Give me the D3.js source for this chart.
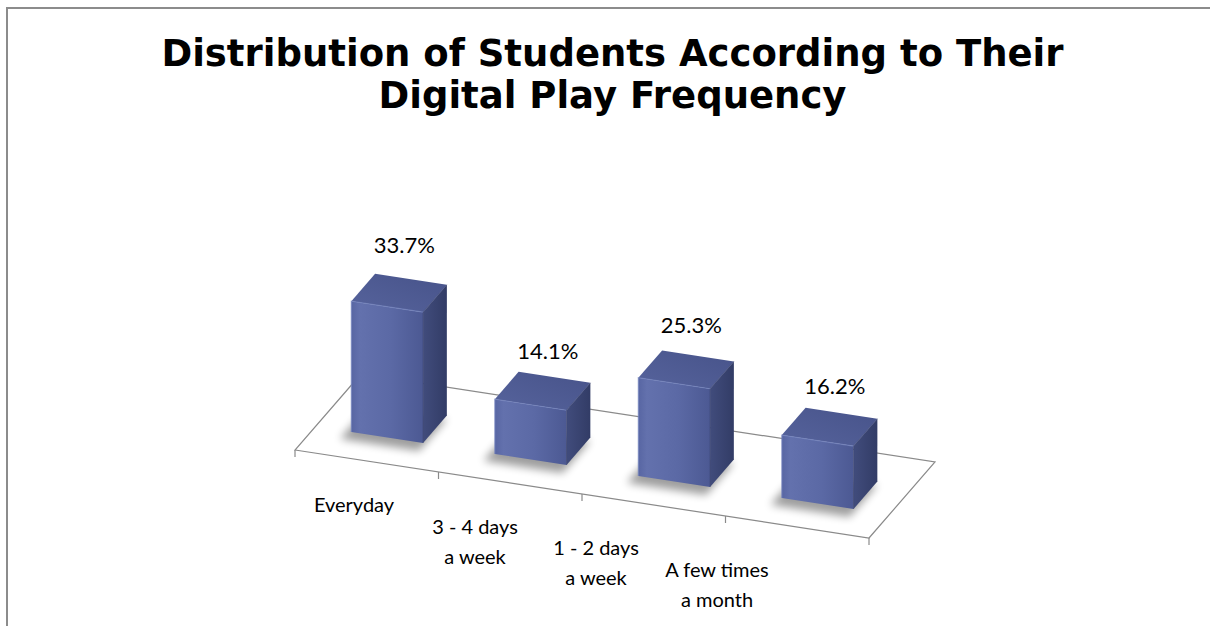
<!DOCTYPE html>
<html>
<head>
<meta charset="utf-8">
<script src="https://cdn.jsdelivr.net/npm/d3@7"></script>
<style>
html, body { margin: 0; padding: 0; background: #fff; }
svg { display: block; }
</style>
</head>
<body>
<div id="chart"></div>
<script>
// ---- data ----
const titleLines = ["Distribution of Students According to Their", "Digital Play Frequency"];
const categories = ["Everyday", "3 - 4 days a week", "1 - 2 days a week", "A few times a month"];
const categoryLines = [["Everyday"], ["3 - 4 days", "a week"], ["1 - 2 days", "a week"], ["A few times", "a month"]];
const values = [33.7, 14.1, 25.3, 16.2];
const valueDomain = [0, 40];

// ---- layout ----
const W = 1210, H = 626;
const svg = d3.select("#chart").append("svg").attr("width", W).attr("height", H);

const defs = svg.append("defs");
const gFront = defs.append("linearGradient").attr("id", "gFront").attr("x1", 0).attr("x2", 1).attr("y1", 0).attr("y2", 0);
gFront.append("stop").attr("offset", "0").attr("stop-color", "#5866a3");
gFront.append("stop").attr("offset", "0.12").attr("stop-color", "#6371ad");
gFront.append("stop").attr("offset", "0.55").attr("stop-color", "#5b69a5");
gFront.append("stop").attr("offset", "1").attr("stop-color", "#4c5993");
const gTop = defs.append("linearGradient").attr("id", "gTop").attr("x1", 0).attr("x2", 1).attr("y1", 1).attr("y2", 0);
gTop.append("stop").attr("offset", "0").attr("stop-color", "#56639c");
gTop.append("stop").attr("offset", "1").attr("stop-color", "#47538a");
const gSide = defs.append("linearGradient").attr("id", "gSide").attr("x1", 0).attr("x2", 1).attr("y1", 0).attr("y2", 0);
gSide.append("stop").attr("offset", "0").attr("stop-color", "#414c7c");
gSide.append("stop").attr("offset", "1").attr("stop-color", "#323c66");
const blur = defs.append("filter").attr("id", "blur").attr("x", "-50%").attr("y", "-50%").attr("width", "200%").attr("height", "200%");
blur.append("feGaussianBlur").attr("stdDeviation", 4);

// frame
svg.append("path").attr("d", `M7,${H} L7,8 L${W},8`).attr("fill", "none").attr("stroke", "#8c8c8c").attr("stroke-width", 2);

// title
svg.append("g").selectAll("text").data(titleLines).join("text")
  .attr("x", 612.5).attr("y", (d, i) => 66 + i * 42)
  .attr("text-anchor", "middle")
  .attr("font-family", "'DejaVu Sans', Verdana, sans-serif").attr("font-weight", "bold")
  .attr("font-size", 37).attr("fill", "#000")
  .text(d => d);

// 3D oblique projection: u along categories, w depth, v value
const origin = [295, 450];
const uX = d3.scaleLinear().domain([0, 4]).range([0, 574]);
const uY = d3.scaleLinear().domain([0, 4]).range([0, 88]);
const wX = d3.scaleLinear().domain([0, 1]).range([0, 66]);
const wY = d3.scaleLinear().domain([0, 1]).range([0, -76]);
const h = d3.scaleLinear().domain(valueDomain).range([0, 155.2]);
const hLabel = d3.scaleLinear().domain(valueDomain).range([20.1, 20.1 + 171.6]);
const P = (u, w, v) => [origin[0] + uX(u) + wX(w), origin[1] + uY(u) + wY(w) - h(v)];

const band = d3.scaleBand().domain(categories).range([0, 4]).paddingInner(0.5).paddingOuter(0.25);
const depth0 = 0.31, depth1 = 0.67;

// floor
const floorPts = [P(0, 0, 0), P(4, 0, 0), P(4, 1, 0), P(0, 1, 0)];
svg.append("path").attr("d", d3.line()(floorPts) + "Z")
  .attr("fill", "#fff").attr("stroke", "#8a8a8a").attr("stroke-width", 1.2);
// ticks on front edge
svg.append("g").selectAll("line").data(d3.range(0, 5)).join("line")
  .attr("x1", d => P(d, 0, 0)[0]).attr("x2", d => P(d, 0, 0)[0])
  .attr("y1", d => P(d, 0, 0)[1]).attr("y2", d => P(d, 0, 0)[1] + 7)
  .attr("stroke", "#8a8a8a").attr("stroke-width", 1.2);

const line = d3.line();
const bars = svg.append("g").selectAll("g").data(values.map((v, i) => ({ v, c: categories[i] }))).join("g");

// shadows
bars.append("path")
  .attr("d", d => {
    const u0 = band(d.c) - 0.03, u1 = band(d.c) + band.bandwidth() + 0.02;
    const pts = [P(u0, depth0 - 0.06, 0), P(u1, depth0 - 0.06, 0), P(u1, depth1, 0), P(u0, depth1, 0)].map(p => [p[0] - 3, p[1] + 3]);
    return line(pts) + "Z";
  })
  .attr("fill", "#000").attr("opacity", 0.38).attr("filter", "url(#blur)");

// front face
bars.append("path")
  .attr("d", d => {
    const u0 = band(d.c), u1 = u0 + band.bandwidth();
    return line([P(u0, depth0, 0), P(u1, depth0, 0), P(u1, depth0, d.v), P(u0, depth0, d.v)]) + "Z";
  })
  .attr("fill", "url(#gFront)");
// side face
bars.append("path")
  .attr("d", d => {
    const u1 = band(d.c) + band.bandwidth();
    return line([P(u1, depth0, 0), P(u1, depth1, 0), P(u1, depth1, d.v), P(u1, depth0, d.v)]) + "Z";
  })
  .attr("fill", "url(#gSide)");
// top face
bars.append("path")
  .attr("d", d => {
    const u0 = band(d.c), u1 = u0 + band.bandwidth();
    return line([P(u0, depth0, d.v), P(u1, depth0, d.v), P(u1, depth1, d.v), P(u0, depth1, d.v)]) + "Z";
  })
  .attr("fill", "url(#gTop)");
// bevel highlights
bars.append("path")
  .attr("d", d => {
    const u0 = band(d.c), u1 = u0 + band.bandwidth();
    return line([P(u0, depth0, 0), P(u0, depth0, d.v), P(u1, depth0, d.v)]);
  })
  .attr("fill", "none").attr("stroke", "#7483bd").attr("stroke-width", 1.2).attr("opacity", 0.7);
bars.append("path")
  .attr("d", d => {
    const u1 = band(d.c) + band.bandwidth();
    return line([P(u1, depth0, 0), P(u1, depth0, d.v), P(u1, depth1, d.v)]);
  })
  .attr("fill", "none").attr("stroke", "#3a4472").attr("stroke-width", 1).attr("opacity", 0.6);

// value labels
const fmt = d3.format(".1f");
bars.append("text")
  .attr("x", d => P(band(d.c) + band.bandwidth() / 2, 0.57, 0)[0])
  .attr("y", d => P(band(d.c) + band.bandwidth() / 2, 0.57, 0)[1] - hLabel(d.v))
  .attr("text-anchor", "middle")
  .attr("font-family", "Lato, 'Open Sans', sans-serif").attr("font-size", 22).attr("fill", "#000")
  .text(d => fmt(d.v) + "%");

// category labels
const catX = d3.scalePoint().domain(categories).range([354, 717]);
const catY = d3.scalePoint().domain(categories).range([512, 577]);
svg.append("g").selectAll("text").data(categories).join("text")
  .attr("text-anchor", "middle")
  .attr("font-family", "Lato, 'Open Sans', sans-serif").attr("font-size", 20).attr("fill", "#000")
  .each(function (c, i) {
    d3.select(this).selectAll("tspan").data(categoryLines[i]).join("tspan")
      .attr("x", catX(c)).attr("y", (t, j) => catY(c) + j * 30)
      .text(t => t);
  });
</script>
</body>
</html>
